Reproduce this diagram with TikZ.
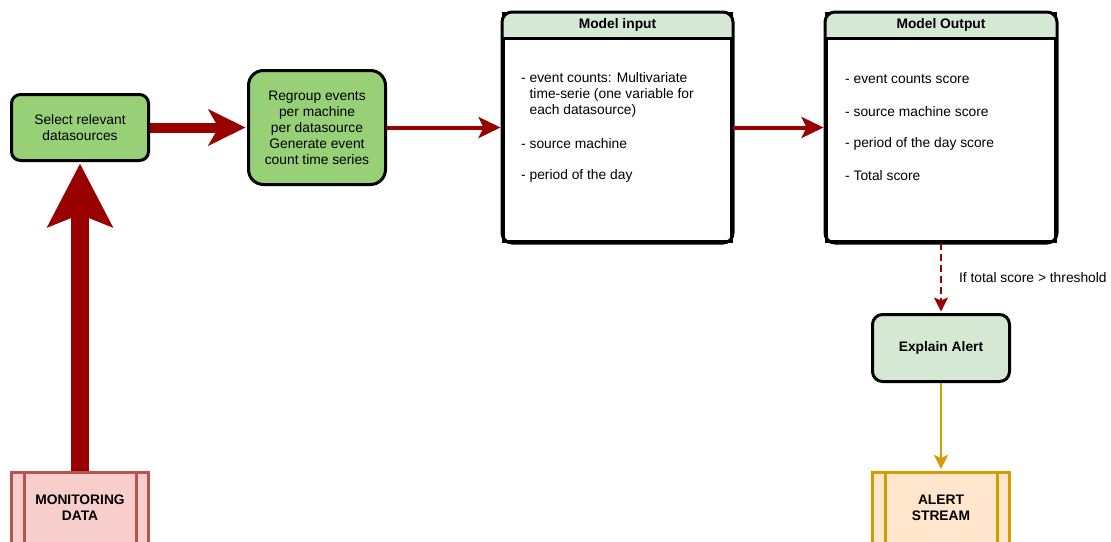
\documentclass[tikz,border=0pt]{standalone}
\usepackage{fontspec}
\setmainfont{Liberation Sans}
\usetikzlibrary{arrows.meta}
\definecolor{dred}{HTML}{990000}
\definecolor{gfill}{HTML}{97D077}
\definecolor{lgreen}{HTML}{D5E8D4}
\definecolor{rstroke}{HTML}{B85450}
\definecolor{rfill}{HTML}{F8CECC}
\definecolor{ostroke}{HTML}{D79B00}
\definecolor{ofill}{HTML}{FFE6CC}
\newcommand{\dfont}{\fontsize{13.8}{16}\selectfont}
\begin{document}
\begin{tikzpicture}[x=1pt,y=-1pt,
  box/.style={draw=black,line width=3pt,rounded corners=9pt,font=\dfont,align=center,inner sep=0pt},
  greenbox/.style={box,fill=gfill,minimum width=137pt},
  panel/.style={draw=black,line width=3pt,fill=white,minimum width=228pt,minimum height=228pt,inner sep=0pt},
  hdrtext/.style={font=\dfont\bfseries,inner sep=0pt},
  itemtext/.style={font=\dfont,anchor=west,align=left,inner sep=0pt},
  proc/.style={line width=3pt,minimum width=137pt,minimum height=72pt,font=\dfont\bfseries,align=center,inner sep=0pt},
  bigarrow/.style={dred,line width=10pt,-{Stealth[length=37pt,width=36pt,inset=10pt]}},
  hugearrow/.style={dred,line width=18pt,-{Stealth[length=63pt,width=64pt,inset=12pt]}},
  medarrow/.style={dred,line width=4pt,-{Stealth[length=22pt,width=21pt,inset=5pt]}},
  dasharrow/.style={dred,line width=2pt,dash pattern=on 7pt off 4pt,-{Stealth[length=14pt,width=14pt,inset=3pt]}},
  goldarrow/.style={ostroke,line width=2pt,-{Stealth[length=14pt,width=14pt,inset=3pt]}}
]
\useasboundingbox (0,0) rectangle (1111,541);
\clip (0,0) rectangle (1111,541);

% Nodes
\node[greenbox,minimum height=66pt] (sel) at (80,127.5) {Select relevant\\datasources};
\node[greenbox,rounded corners=15pt,minimum height=114pt] (reg) at (317,127.5)
  {Regroup events\\per machine\\per datasource\\Generate event\\count time series};

% Model input panel
\node[panel] (mi) at (617.5,127.5) {};
\begin{scope}
  \clip[rounded corners=10pt] (mi.south west) rectangle (mi.north east);
  \fill[lgreen] (mi.north west) rectangle ([yshift=-26pt]mi.north east);
\end{scope}
\draw[line width=3pt,rounded corners=10pt] (mi.south west) rectangle (mi.north east);
\draw[line width=3pt] ([yshift=-26pt]mi.north west) -- ([yshift=-26pt]mi.north east);
\node[hdrtext] (mih) at (617.5,25) {Model input};
\node[itemtext] (mi1) at (521,95) {- event counts: Multivariate\\\hspace*{8.4pt}time-serie (one variable for\\\hspace*{8.4pt}each datasource)};
\node[itemtext] (mi2) at (521,144) {- source machine};
\node[itemtext] (mi3) at (521,176) {- period of the day};

% Model output panel
\node[panel,minimum width=229pt] (mo) at (941,127.5) {};
\begin{scope}
  \clip[rounded corners=10pt] (mo.south west) rectangle (mo.north east);
  \fill[lgreen] (mo.north west) rectangle ([yshift=-26pt]mo.north east);
\end{scope}
\draw[line width=3pt,rounded corners=10pt] (mo.south west) rectangle (mo.north east);
\draw[line width=3pt] ([yshift=-26pt]mo.north west) -- ([yshift=-26pt]mo.north east);
\node[hdrtext] (moh) at (941,25) {Model Output};
\node[itemtext] (mo1) at (845,79) {- event counts score};
\node[itemtext] (mo2) at (845,112) {- source machine score};
\node[itemtext] (mo3) at (845,144) {- period of the day score};
\node[itemtext] (mo4) at (845,176) {- Total score};

% Explain alert
\node[box,fill=lgreen,minimum width=137pt,minimum height=67pt,font=\dfont\bfseries,rounded corners=10pt] (ex) at (941,348) {Explain Alert};

% Monitoring data
\node[proc,draw=rstroke,fill=rfill] (mon) at (80,508) {MONITORING\\DATA};
\draw[rstroke,line width=3pt] ([xshift=14pt]mon.north west) -- ([xshift=14pt]mon.south west);
\draw[rstroke,line width=3pt] ([xshift=-14pt]mon.north east) -- ([xshift=-14pt]mon.south east);

% Alert stream
\node[proc,draw=ostroke,fill=ofill] (as) at (941,508) {ALERT\\STREAM};
\draw[ostroke,line width=3pt] ([xshift=14pt]as.north west) -- ([xshift=14pt]as.south west);
\draw[ostroke,line width=3pt] ([xshift=-14pt]as.north east) -- ([xshift=-14pt]as.south east);

% Connectors
\draw[hugearrow] (mon.north) -- ([yshift=-1.5pt]sel.south);
\draw[bigarrow] (sel.east) -- ([xshift=-1.5pt]reg.west);
\draw[medarrow] (reg.east) -- ([xshift=-1.5pt]mi.west);
\draw[medarrow] (mi.east) -- ([xshift=-1.5pt]mo.west);
\draw[dasharrow] (mo.south) -- ([yshift=1.5pt]ex.north) node[pos=0.5,right=17pt,font=\dfont,text=black,inner sep=0pt] (thr) {If total score > threshold};
\draw[goldarrow] (ex.south) -- ([yshift=1.5pt]as.north);
\end{tikzpicture}
\end{document}
